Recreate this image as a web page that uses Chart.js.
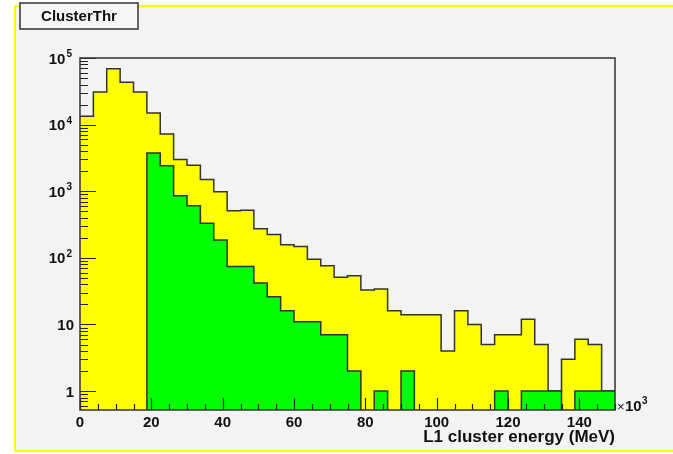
<!DOCTYPE html>
<html lang="en">
   <head>
      <meta charset="UTF-8" />
      <title>ClusterThr</title>
      <script src="https://cdn.jsdelivr.net/npm/chart.js"></script>
      <style>
         body {
            margin: 0;
            background: #ffffff;
         }
         #wrap {
            width: 673px;
            height: 454px;
         }
      </style>
   </head>
   <body>
      <div id="wrap">
         <canvas id="chart" width="673" height="454"></canvas>
      </div>
      <script>
         // 40 bins of 3.75 (x10^3 MeV) from 0 to 150
         const binWidth = 3.75;
         const allClusters = [
            13300, 31000, 68800, 43300, 31000, 15000, 7250, 3000, 2450, 1500,
            980, 510, 520, 273, 224, 157, 148, 95, 76, 51,
            54, 33, 34, 16, 14, 14, 14, 4, 16, 10,
            5, 7, 7, 12, 5, 1, 3, 6, 5, 1,
         ];
         const thrClusters = [
            0, 0, 0, 0, 0, 3750, 2420, 855, 605, 330,
            186, 74, 74, 42, 26, 16, 11, 11, 7, 7,
            2, 0, 1, 0, 2, 0, 0, 0, 0, 0,
            0, 1, 0, 1, 1, 1, 0, 1, 1, 1,
         ];
         const xTicks = [0, 20, 40, 60, 80, 100, 120, 140];
         const yTickValues = [1, 10, 100, 1000, 10000, 100000];
         const yTickBase = ['1', '10', '10', '10', '10', '10'];
         const yTickExp = ['', '', '2', '3', '4', '5'];

         const frame = { left: 80, top: 58, right: 615, bottom: 410 };
         const font = '"Liberation Sans", Arial, sans-serif';

         // histogram -> step points at bin left edges, plus closing edge
         function toSteps(counts) {
            const pts = counts.map((c, i) => ({ x: i * binWidth, y: c > 0 ? c : 1e-3 }));
            const last = counts[counts.length - 1];
            pts.push({ x: counts.length * binWidth, y: last > 0 ? last : 1e-3 });
            return pts;
         }

         const rootStyle = {
            id: 'rootStyle',
            beforeDraw(chart) {
               const ctx = chart.ctx;
               ctx.save();
               ctx.fillStyle = '#ffffff';
               ctx.fillRect(0, 0, chart.width, chart.height);
               ctx.fillStyle = '#f3f3f4';
               ctx.fillRect(15, 6, chart.width, 445);
               ctx.strokeStyle = '#ffff00';
               ctx.lineWidth = 2;
               ctx.strokeRect(15, 6, chart.width + 10, 445);
               ctx.restore();
            },
            afterDatasetsDraw(chart) {
               const ctx = chart.ctx;
               const xs = chart.scales.x;
               const ys = chart.scales.y;
               const a = chart.chartArea;
               ctx.save();
               ctx.strokeStyle = '#222';
               ctx.lineWidth = 1.2;
               ctx.beginPath();
               // y ticks (log), inside plot
               for (let d = -1; d <= 5; d++) {
                  for (let m = 1; m <= 9; m++) {
                     const v = m * Math.pow(10, d);
                     if (v < ys.min || v > ys.max) continue;
                     const py = Math.round(ys.getPixelForValue(v)) + 0.5;
                     const len = m === 1 ? 16 : 8;
                     ctx.moveTo(a.left, py);
                     ctx.lineTo(a.left + len, py);
                  }
               }
               // x ticks, inside plot
               for (let v = 0; v <= 150; v += 5) {
                  const px = Math.round(xs.getPixelForValue(v)) + 0.5;
                  const len = v % 20 === 0 ? 12 : 6;
                  ctx.moveTo(px, a.bottom);
                  ctx.lineTo(px, a.bottom - len);
               }
               ctx.stroke();
               ctx.lineWidth = 1.5;
               ctx.strokeStyle = '#333';
               ctx.strokeRect(a.left, a.top, a.right - a.left, a.bottom - a.top);
               ctx.restore();
            },
            afterDraw(chart) {
               const ctx = chart.ctx;
               const ys = chart.scales.y;
               const a = chart.chartArea;
               ctx.save();
               ctx.fillStyle = '#111';
               // y labels with superscripts
               yTickValues.forEach((v, i) => {
                  const py = ys.getPixelForValue(v);
                  ctx.textBaseline = 'alphabetic';
                  if (yTickExp[i]) {
                     ctx.font = 'bold 10px ' + font;
                     const ew = ctx.measureText(yTickExp[i]).width;
                     ctx.textAlign = 'left';
                     ctx.fillText(yTickExp[i], 72 - ew, py - 1);
                     ctx.font = 'bold 15px ' + font;
                     ctx.textAlign = 'right';
                     ctx.fillText(yTickBase[i], 71 - ew, py + 5.5);
                  } else {
                     ctx.font = 'bold 15px ' + font;
                     ctx.textAlign = 'right';
                     ctx.fillText(yTickBase[i], 74, py + 5.5);
                  }
               });
               // x10^3 multiplier
               ctx.textAlign = 'left';
               ctx.font = '13px ' + font;
               ctx.fillText('\u00d7', a.right + 2, a.bottom + 1);
               ctx.font = 'bold 15px ' + font;
               ctx.fillText('10', a.right + 10, a.bottom + 1);
               ctx.font = 'bold 10px ' + font;
               ctx.fillText('3', a.right + 27, a.bottom - 6);
               // axis title
               ctx.font = 'bold 17px ' + font;
               ctx.textAlign = 'right';
               ctx.textBaseline = 'middle';
               ctx.fillText('L1 cluster energy (MeV)', a.right, 437);
               // title box
               ctx.fillStyle = '#f6f6f6';
               ctx.fillRect(20, 3, 118, 26);
               ctx.strokeStyle = '#333';
               ctx.lineWidth = 1.5;
               ctx.strokeRect(20, 3, 118, 26);
               ctx.fillStyle = '#111';
               ctx.font = 'bold 15px ' + font;
               ctx.textAlign = 'center';
               ctx.fillText('ClusterThr', 79, 17);
               ctx.restore();
            },
         };

         new Chart(document.getElementById('chart').getContext('2d'), {
            type: 'line',
            data: {
               datasets: [
                  {
                     label: 'thr',
                     data: toSteps(thrClusters),
                     stepped: true,
                     fill: 'start',
                     backgroundColor: '#00ff00',
                     borderColor: '#333',
                     borderWidth: 1.5,
                     pointRadius: 0,
                     order: 0,
                  },
                  {
                     label: 'all',
                     data: toSteps(allClusters),
                     stepped: true,
                     fill: 'start',
                     backgroundColor: '#ffff00',
                     borderColor: '#333',
                     borderWidth: 1.5,
                     pointRadius: 0,
                     order: 1,
                  },
               ],
            },
            options: {
               responsive: false,
               animation: false,
               layout: {
                  padding: { left: frame.left, right: 673 - frame.right, top: frame.top, bottom: 0 },
               },
               plugins: {
                  legend: { display: false },
                  tooltip: { enabled: false },
               },
               scales: {
                  x: {
                     type: 'linear',
                     min: 0,
                     max: 150,
                     grid: { display: false, drawTicks: false },
                     border: { display: false },
                     ticks: {
                        color: '#111',
                        font: { family: font, size: 15, weight: 'bold' },
                        padding: 4,
                        maxRotation: 0,
                     },
                     afterBuildTicks(scale) {
                        scale.ticks = xTicks.map((v) => ({ value: v }));
                     },
                     afterFit(scale) {
                        scale.height = 454 - frame.bottom;
                     },
                  },
                  y: {
                     type: 'logarithmic',
                     min: 0.52,
                     max: 100000,
                     display: false,
                  },
               },
            },
            plugins: [rootStyle],
         });
      </script>
   </body>
</html>
